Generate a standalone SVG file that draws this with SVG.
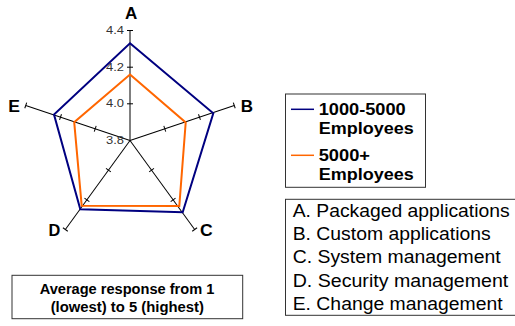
<svg xmlns="http://www.w3.org/2000/svg" xmlns:xlink="http://www.w3.org/1999/xlink" width="515" height="326" viewBox="0 0 515 326">
  <style>
    text { font-family: "Liberation Sans", Arial, sans-serif; fill: #000; }
    .axis-label { font-size: 16.5px; font-weight: bold; }
    .scale { font-size: 11.5px; fill: #333; text-anchor: end; }
    .legend-b { font-size: 16.5px; font-weight: bold; }
    .legend-r { font-size: 17.5px; }
    .note { font-size: 14px; font-weight: bold; text-anchor: middle; }
    .frame { fill: #fff; stroke: #333; stroke-width: 1; }
    .axis line { stroke: #000; stroke-width: 1; }
    .series { fill: none; stroke-width: 2; stroke-linejoin: miter; }
  </style>
  <defs>
    <!-- one radial axis pointing up from the origin, with ticks at 4.0, 4.2 and 4.4 -->
    <g id="spoke" class="axis">
      <line x1="0" y1="0" x2="0" y2="-110"/>
      <line x1="-3" y1="-36.7" x2="3" y2="-36.7"/>
      <line x1="-3" y1="-73.3" x2="3" y2="-73.3"/>
      <line x1="-3" y1="-110" x2="3" y2="-110"/>
    </g>
  </defs>

  <rect width="515" height="326" fill="#fff"/>

  <!-- radar axes -->
  <g id="axes">
    <use xlink:href="#spoke" transform="translate(130 140.5) rotate(0)"/>
    <use xlink:href="#spoke" transform="translate(130 140.5) rotate(71.4)"/>
    <use xlink:href="#spoke" transform="translate(130 140.5) rotate(144)"/>
    <use xlink:href="#spoke" transform="translate(130 140.5) rotate(216)"/>
    <use xlink:href="#spoke" transform="translate(130 140.5) rotate(288.6)"/>
  </g>

  <!-- scale values on axis A -->
  <g id="scale">
    <text class="scale" x="124" y="34.3" textLength="18" lengthAdjust="spacingAndGlyphs">4.4</text>
    <text class="scale" x="124" y="71" textLength="18" lengthAdjust="spacingAndGlyphs">4.2</text>
    <text class="scale" x="124" y="107.2" textLength="18" lengthAdjust="spacingAndGlyphs">4.0</text>
    <text class="scale" x="124" y="143.8" textLength="18" lengthAdjust="spacingAndGlyphs">3.8</text>
  </g>

  <!-- data series -->
  <g id="series">
    <polygon id="series-1000-5000" class="series" stroke="#000080"
      points="130,43.3 213.3,113.3 182.7,212.3 80.3,209.3 54,114.5"/>
    <polygon id="series-5000plus" class="series" stroke="#FF6600"
      points="130,74.5 185.7,122.5 179.3,206 81.7,205.8 74.2,122.2"/>
  </g>

  <!-- axis letters -->
  <g id="axis-labels">
    <text class="axis-label" x="125" y="19.3" textLength="12.3" lengthAdjust="spacingAndGlyphs">A</text>
    <text class="axis-label" x="240.7" y="111.7" textLength="12.3" lengthAdjust="spacingAndGlyphs">B</text>
    <text class="axis-label" x="200" y="236.2" textLength="12.7" lengthAdjust="spacingAndGlyphs">C</text>
    <text class="axis-label" x="48.5" y="236.2" textLength="11.8" lengthAdjust="spacingAndGlyphs">D</text>
    <text class="axis-label" x="8.3" y="111.7" textLength="11.7" lengthAdjust="spacingAndGlyphs">E</text>
  </g>

  <!-- series legend -->
  <g id="legend">
    <rect class="frame" x="285.5" y="94" width="140" height="93.3"/>
    <line x1="291" y1="109.3" x2="314" y2="109.3" stroke="#000080" stroke-width="1.5"/>
    <text class="legend-b" x="318.7" y="115" textLength="87" lengthAdjust="spacingAndGlyphs">1000-5000</text>
    <text class="legend-b" x="318.7" y="134.3" textLength="95" lengthAdjust="spacingAndGlyphs">Employees</text>
    <line x1="291" y1="155.3" x2="314" y2="155.3" stroke="#FF6600" stroke-width="1.5"/>
    <text class="legend-b" x="318.7" y="161" textLength="51.3" lengthAdjust="spacingAndGlyphs">5000+</text>
    <text class="legend-b" x="318.7" y="180" textLength="95" lengthAdjust="spacingAndGlyphs">Employees</text>
  </g>

  <!-- axis key -->
  <g id="axis-key">
    <rect class="frame" x="285.5" y="199.3" width="232" height="116"/>
    <text class="legend-r" x="292.7" y="216.7" textLength="217" lengthAdjust="spacingAndGlyphs">A. Packaged applications</text>
    <text class="legend-r" x="292.7" y="240" textLength="198" lengthAdjust="spacingAndGlyphs">B. Custom applications</text>
    <text class="legend-r" x="292.7" y="263.3" textLength="208" lengthAdjust="spacingAndGlyphs">C. System management</text>
    <text class="legend-r" x="292.7" y="286.7" textLength="215.6" lengthAdjust="spacingAndGlyphs">D. Security management</text>
    <text class="legend-r" x="292.7" y="310" textLength="210" lengthAdjust="spacingAndGlyphs">E. Change management</text>
  </g>

  <!-- scale note -->
  <g id="note">
    <rect class="frame" x="12" y="275.3" width="230.7" height="43.4"/>
    <text class="note" x="127" y="294.3" textLength="174.7" lengthAdjust="spacingAndGlyphs">Average response from 1</text>
    <text class="note" x="127.3" y="312.3" textLength="153.3" lengthAdjust="spacingAndGlyphs">(lowest) to 5 (highest)</text>
  </g>
</svg>
